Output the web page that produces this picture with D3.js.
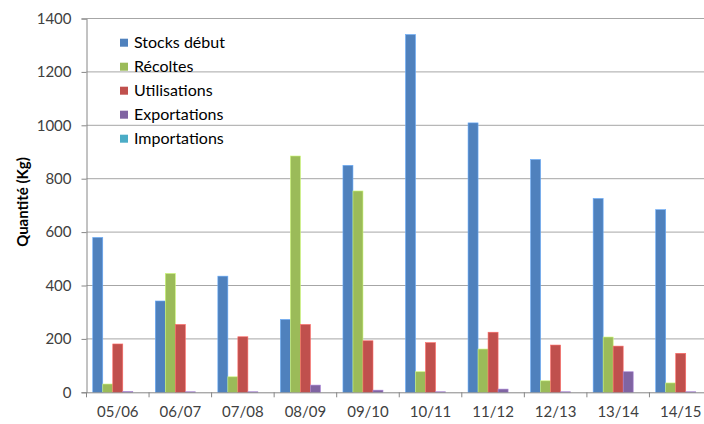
<!DOCTYPE html>
<html><head><meta charset="utf-8">
<script src="https://cdn.jsdelivr.net/npm/d3@7/dist/d3.min.js"></script>
<style>html,body{margin:0;padding:0;background:#fff;overflow:hidden}</style>
</head><body>
<svg id="c" width="704" height="424"></svg>
<script>
const categories = ["05/06","06/07","07/08","08/09","09/10","10/11","11/12","12/13","13/14","14/15"];
const seriesNames = ["Stocks début","Récoltes","Utilisations","Exportations","Importations"];
const stocksDebut  = [580, 342, 435, 273, 850, 1340, 1009, 872, 726, 684];
const recoltes     = [31, 445, 58, 885, 754, 77, 162, 43, 207, 35];
const utilisations = [181, 254, 208, 254, 193, 186, 225, 177, 173, 146];
const exportations = [3, 2, 2, 27, 8, 2, 12, 2, 77, 2];
const importations = [0, 0, 0, 0, 0, 0, 0, 0, 0, 0];
const yTicks = [0, 200, 400, 600, 800, 1000, 1200, 1400];
const colors = ["#4F81BD","#9BBB59","#C0504D","#8064A2","#4BACC6"];
const seriesValues = [stocksDebut, recoltes, utilisations, exportations, importations];

const svg = d3.select("#c");
const m = {l:86.5, t:18.5, r:712, b:392.3};
const font = "Lato, 'Open Sans', sans-serif";

const x = d3.scaleBand().domain(categories).range([m.l, m.r]).paddingInner(0).paddingOuter(0);
const y = d3.scaleLinear().domain([0, 1400]).range([m.b, m.t]);

// gridlines
svg.append("g").selectAll("line").data(yTicks.filter(d=>d>0)).join("line")
  .attr("x1", m.l).attr("x2", m.r).attr("y1", d=>y(d)).attr("y2", d=>y(d))
  .attr("stroke", "#a6a6a6").attr("stroke-width", 1);

// y axis
const ya = d3.axisLeft(y).tickValues(yTicks).tickFormat(d3.format("d")).tickSize(5).tickPadding(10);
const gy = svg.append("g").attr("transform", `translate(${m.l},0)`).call(ya);
gy.select(".domain").attr("stroke", "#868686");
gy.selectAll(".tick line").attr("stroke", "#868686");
gy.selectAll(".tick text").attr("font-family", font).attr("font-size", 15).attr("fill", "#404040");

// bars
const rows = [];
categories.forEach((c,i)=>seriesNames.forEach((s,j)=>rows.push({c, s, v: seriesValues[j][i], j})));
const xs = d3.scaleBand().domain(d3.range(seriesNames.length)).range([6.25, x.bandwidth()-6.25]);
svg.append("g").selectAll("rect").data(rows).join("rect")
  .attr("x", d => x(d.c) + xs(d.j))
  .attr("width", xs.bandwidth())
  .attr("y", d => y(d.v)).attr("height", d => y(0) - y(d.v))
  .attr("fill", d => colors[d.j])
  .attr("stroke", d => d3.color(colors[d.j]).brighter(0.8)).attr("stroke-width", 0.6);

// x axis
const xa = d3.axisBottom(x).tickSize(0).tickPadding(14);
const gx = svg.append("g").attr("transform", `translate(0,${m.b})`).call(xa);
gx.select(".domain").attr("stroke", "#868686");
gx.selectAll(".tick text").attr("font-family", font).attr("font-size", 15).attr("fill", "#404040");
// category boundary ticks
svg.append("g").selectAll("line").data(categories.concat(["_end"])).join("line")
  .attr("x1", d => d==="_end" ? m.r : x(d)).attr("x2", d => d==="_end" ? m.r : x(d))
  .attr("y1", m.b).attr("y2", m.b + 5).attr("stroke", "#868686");

// y title
svg.append("text").attr("transform", `translate(23,202) rotate(-90)`)
  .attr("text-anchor", "middle").attr("dy", "0.35em").attr("font-family", font).attr("font-size", 15)
  .attr("font-weight", "bold").attr("fill", "#000").text("Quantité (Kg)");

// legend
const lg = svg.append("g").attr("transform", "translate(120,42.7)");
const li = lg.selectAll("g").data(seriesNames).join("g").attr("transform", (d,i)=>`translate(0,${i*24})`);
li.append("rect").attr("x", 0).attr("y", -4).attr("width", 8).attr("height", 8).attr("fill", (d,i)=>colors[i]);
li.append("text").attr("x", 14).attr("y", 0).attr("dy", "0.35em").attr("font-family", font)
  .attr("font-size", 16).attr("fill", "#000").text(d=>d);
</script>
</body></html>
